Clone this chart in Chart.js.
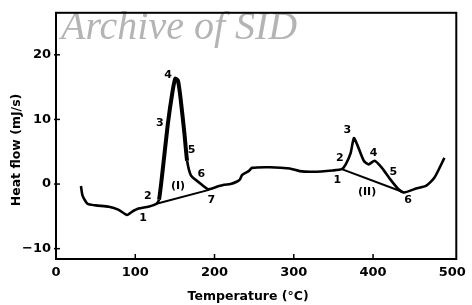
<!DOCTYPE html>
<html>
<head>
<meta charset="utf-8">
<script src="https://cdn.jsdelivr.net/npm/chart.js@4"></script>
<style>
html, body { margin: 0; padding: 0; background: #fff; }
</style>
</head>
<body>
<canvas id="chart" width="472" height="305"></canvas>
<script>
// DSC curve: temperature (°C) and heat flow (mJ/s)
const tempC = [31.5, 33.5, 39.7, 50.2, 66.7, 79.2, 89.5, 95.7, 104, 116.5, 126.8, 130,
  134, 141, 147, 150.5, 153.9, 157.2, 162.2, 165.4, 170.4, 180.9, 192,
  205.8, 212, 220.2, 228.5, 232, 234.8, 243.1, 247.2, 270, 294.9, 307.4, 324, 349, 360.5,
  365.5, 371.7, 375.8, 380, 388.3, 394.5, 402, 411.2, 421.5, 431.8, 439.3, 452.6,
  467.2, 477.5, 490];
const heatFlow = [-0.3, -1.8, -3.05, -3.3, -3.5, -4.0, -4.8, -4.3, -3.8, -3.5, -3.05, -2.4,
  1.5, 9.2, 14.3, 16.3, 16.0, 13.2, 7.6, 3.6, 1.3, 0.2, -0.8,
  -0.3, -0.1, 0, 0.4, 0.7, 1.4, 2.0, 2.5, 2.6, 2.4, 2.0, 1.9, 2.1, 2.3,
  3.05, 4.8, 7.1, 6.1, 3.6, 3.05, 3.6, 2.5, 0.76, -0.76, -1.3, -0.76,
  -0.26, 1.0, 4.06];

// baselines under peak (I) and peak (II)
const base1T = [126.8, 193];
const base1H = [-3.05, -0.9];
const base2T = [360.5, 439.3];
const base2H = [2.3, -1.3];

const xTicks = [0, 100, 200, 300, 400, 500];
const yTicks = [-10, 0, 10, 20];

// point labels (text, temperature, heat flow)
const noteText = ["1", "2", "3", "4", "5", "6", "(I)", "7", "1", "2", "3", "4", "5", "6", "(II)"];
const noteT = [110, 115.7, 131, 141.4, 171, 183.5, 153.9, 196, 355, 358, 367.6, 400.7, 425.6, 444.3, 392.5];
const noteH = [-5.3, -1.8, 9.4, 16.8, 5.3, 1.5, -0.26, -2.5, 0.6, 4.06, 8.4, 4.8, 1.8, -2.5, -1.3];

const toPts = (xs, ys) => xs.map((v, i) => ({ x: v, y: ys[i] }));
const tickFont = { family: "DejaVu Sans", weight: "bold", size: 13 };

const decor = {
  id: "decor",
  afterDraw(chart) {
    const { ctx, chartArea: a, scales: { x, y } } = chart;
    ctx.save();
    // watermark
    ctx.fillStyle = "#b4b4b4";
    ctx.font = 'italic 40px "Liberation Serif"';
    ctx.textBaseline = "alphabetic";
    ctx.fillText("Archive of SID", a.left + 5, a.top + 26);

    // frame
    ctx.strokeStyle = "#000";
    ctx.lineWidth = 2;
    ctx.strokeRect(a.left, a.top, a.right - a.left, a.bottom - a.top);

    // inward ticks
    ctx.lineWidth = 1.5;
    xTicks.slice(1, -1).forEach(v => {
      const px = x.getPixelForValue(v);
      ctx.beginPath(); ctx.moveTo(px, a.bottom); ctx.lineTo(px, a.bottom - 5); ctx.stroke();
    });
    yTicks.forEach(v => {
      const py = y.getPixelForValue(v);
      ctx.beginPath(); ctx.moveTo(a.left - 2, py); ctx.lineTo(a.left + 4, py); ctx.stroke();
    });

    // point labels
    ctx.fillStyle = "#000";
    ctx.font = 'bold 11px "DejaVu Sans"';
    ctx.textAlign = "center";
    ctx.textBaseline = "middle";
    noteText.forEach((t, i) => {
      ctx.fillText(t, x.getPixelForValue(noteT[i]), y.getPixelForValue(noteH[i]));
    });

    // axis titles
    ctx.font = 'bold 12.5px "DejaVu Sans"';
    ctx.fillText("Temperature (°C)", (a.left + a.right) / 2 - 8, 297);
    ctx.translate(17, 150);
    ctx.rotate(-Math.PI / 2);
    ctx.fillText("Heat flow (mJ/s)", 0, 0);
    ctx.restore();
  }
};

new Chart(document.getElementById("chart"), {
  type: "scatter",
  data: {
    datasets: [
      {
        data: toPts(tempC, heatFlow),
        showLine: true,
        borderColor: "#000",
        borderWidth: 2.6,
        pointRadius: 0,
        tension: 0.2,
        segment: {
          borderWidth: c => (c.p0.parsed.x >= 128 && c.p1.parsed.x <= 166 ? 4 : 2.6)
        }
      },
      { data: toPts(base1T, base1H), showLine: true, borderColor: "#000", borderWidth: 2, pointRadius: 0 },
      { data: toPts(base2T, base2H), showLine: true, borderColor: "#000", borderWidth: 2, pointRadius: 0 }
    ]
  },
  options: {
    responsive: false,
    animation: false,
    devicePixelRatio: 1,
    layout: { padding: { left: 0, top: 10, right: 11, bottom: 0 } },
    plugins: { legend: { display: false }, tooltip: { enabled: false } },
    scales: {
      x: {
        type: "linear",
        min: 0,
        max: 505,
        afterFit: s => { s.height = 46; },
        afterBuildTicks: s => { s.ticks = xTicks.map(v => ({ value: v })); },
        grid: { display: false, drawTicks: false, tickLength: 0 },
        border: { display: false },
        ticks: { color: "#000", font: tickFont, padding: 6, maxRotation: 0 }
      },
      y: {
        type: "linear",
        min: -11.6,
        max: 26.5,
        afterFit: s => { s.width = 56; },
        afterBuildTicks: s => { s.ticks = yTicks.map(v => ({ value: v })); },
        grid: { display: false, drawTicks: false, tickLength: 0 },
        border: { display: false },
        ticks: {
          color: "#000",
          font: tickFont,
          padding: 5,
          callback: v => (v < 0 ? "\u2212" + Math.abs(v) : v)
        }
      }
    }
  },
  plugins: [decor]
});
</script>
</body>
</html>
